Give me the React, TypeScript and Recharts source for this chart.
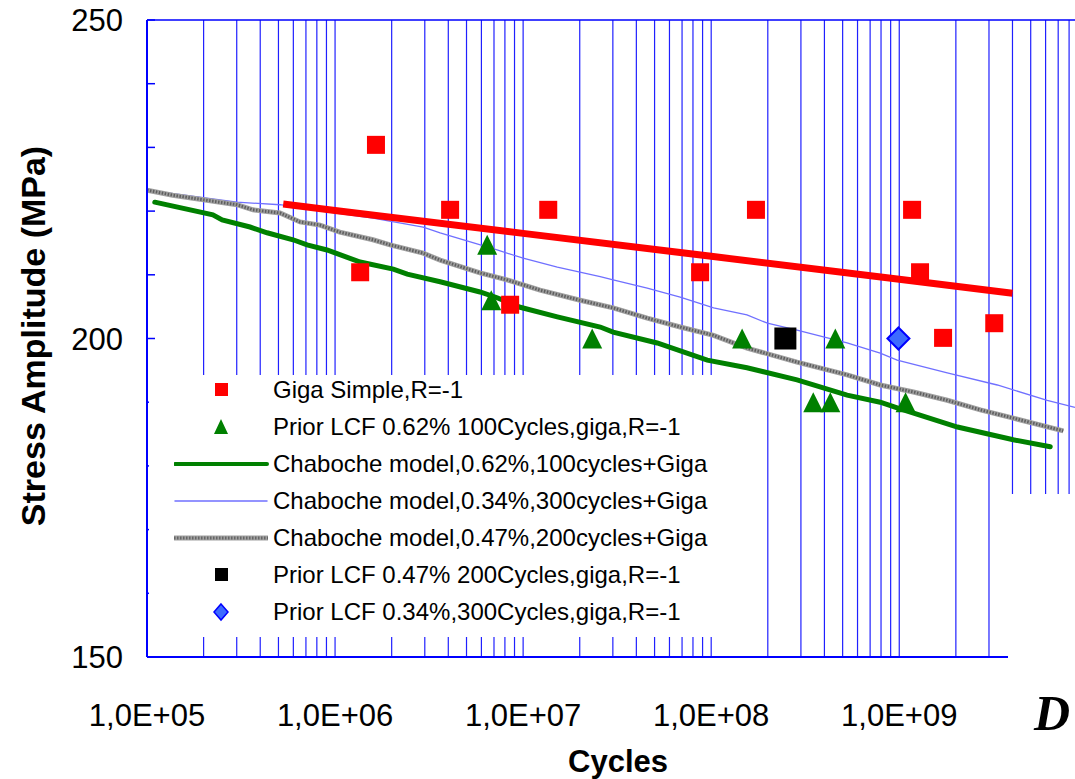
import {
  ComposedChart,
  Line,
  Scatter,
  XAxis,
  YAxis,
  ReferenceLine,
  Label,
} from "recharts";

// Giga Simple, R=-1 (red squares)
const gigaSimple = [
  { n: 1.65e6, s: 230.4 },
  { n: 1.36e6, s: 210.4 },
  { n: 4.09e6, s: 220.2 },
  { n: 8.53e6, s: 205.3 },
  { n: 1.36e7, s: 220.2 },
  { n: 8.73e7, s: 210.4 },
  { n: 1.73e8, s: 220.2 },
  { n: 1.17e9, s: 220.2 },
  { n: 1.29e9, s: 210.4 },
  { n: 1.71e9, s: 200.1 },
  { n: 3.2e9, s: 202.4 },
];

// fit through the giga points (thick red line)
const gigaFit = [
  { n: 5.3e5, s: 221.1 },
  { n: 1e6, s: 220.1 },
  { n: 1e7, s: 216.5 },
  { n: 1e8, s: 212.9 },
  { n: 1e9, s: 209.3 },
  { n: 4.0e9, s: 207.1 },
];

// Prior LCF 0.62% 100 cycles (green triangles)
const lcf062 = [
  { n: 6.44e6, s: 214.7 },
  { n: 6.77e6, s: 206.0 },
  { n: 2.33e7, s: 200 },
  { n: 1.46e8, s: 200 },
  { n: 4.57e8, s: 200 },
  { n: 3.49e8, s: 190 },
  { n: 4.3e8, s: 190 },
  { n: 1.08e9, s: 190 },
];

// Prior LCF 0.47% 200 cycles (black square)
const lcf047 = [{ n: 2.48e8, s: 200 }];

// Prior LCF 0.34% 300 cycles (blue diamond)
const lcf034 = [{ n: 9.9e8, s: 200 }];

// Chaboche model 0.62%, 100 cycles
const chab062 = [
  { n: 1.1e5, s: 221.4 },
  { n: 2.24e5, s: 219.4 },
  { n: 2.51e5, s: 218.6 },
  { n: 3.53e5, s: 217.5 },
  { n: 4.35e5, s: 216.6 },
  { n: 5.98e5, s: 215.5 },
  { n: 7.1e5, s: 214.7 },
  { n: 9.06e5, s: 213.9 },
  { n: 1.36e6, s: 212.0 },
  { n: 2.04e6, s: 210.9 },
  { n: 2.42e6, s: 210.1 },
  { n: 3.62e6, s: 208.9 },
  { n: 5.9e6, s: 207.3 },
  { n: 7.27e6, s: 206.4 },
  { n: 9.65e6, s: 204.9 },
  { n: 1.52e7, s: 203.4 },
  { n: 2.57e7, s: 201.8 },
  { n: 3.01e7, s: 201.0 },
  { n: 5.16e7, s: 199.3 },
  { n: 9.53e7, s: 196.6 },
  { n: 1.55e8, s: 195.4 },
  { n: 2.86e8, s: 193.5 },
  { n: 5.28e8, s: 191.1 },
  { n: 7.92e8, s: 190.0 },
  { n: 9.75e8, s: 189.1 },
  { n: 2.04e9, s: 186.1 },
  { n: 4.04e9, s: 184.1 },
  { n: 6.35e9, s: 183.0 },
];

// Chaboche model 0.34%, 300 cycles
const chab034 = [
  { n: 1.0e5, s: 223.3 },
  { n: 3.01e5, s: 221.4 },
  { n: 5.1e5, s: 221.0 },
  { n: 9.06e5, s: 219.9 },
  { n: 1.59e6, s: 218.9 },
  { n: 2.94e6, s: 217.5 },
  { n: 3.62e6, s: 216.6 },
  { n: 7.27e6, s: 213.9 },
  { n: 1.0e7, s: 212.6 },
  { n: 1.52e7, s: 211.2 },
  { n: 2.57e7, s: 209.7 },
  { n: 3.01e7, s: 209.2 },
  { n: 4.57e7, s: 207.9 },
  { n: 6.84e7, s: 206.5 },
  { n: 1.03e8, s: 204.8 },
  { n: 1.55e8, s: 203.7 },
  { n: 1.99e8, s: 202.4 },
  { n: 2.86e8, s: 201.3 },
  { n: 5.28e8, s: 199.3 },
  { n: 7.92e8, s: 197.7 },
  { n: 9.75e8, s: 196.6 },
  { n: 1.8e9, s: 194.6 },
  { n: 3.32e9, s: 192.7 },
  { n: 6.12e9, s: 190.3 },
  { n: 8.6e9, s: 189.2 },
];

// Chaboche model 0.47%, 200 cycles
const chab047 = [
  { n: 1.0e5, s: 223.3 },
  { n: 1.37e5, s: 222.5 },
  { n: 2.08e5, s: 221.7 },
  { n: 3.01e5, s: 221.0 },
  { n: 3.66e5, s: 220.2 },
  { n: 5.1e5, s: 219.7 },
  { n: 6.51e5, s: 218.3 },
  { n: 8.32e5, s: 217.8 },
  { n: 1.06e6, s: 216.7 },
  { n: 1.59e6, s: 215.5 },
  { n: 1.96e6, s: 214.7 },
  { n: 2.94e6, s: 213.4 },
  { n: 3.62e6, s: 212.3 },
  { n: 5.9e6, s: 210.3 },
  { n: 8.22e6, s: 209.2 },
  { n: 1.23e7, s: 207.6 },
  { n: 2.01e7, s: 206.0 },
  { n: 3.01e7, s: 204.8 },
  { n: 4.57e7, s: 203.2 },
  { n: 6.84e7, s: 201.8 },
  { n: 1.03e8, s: 200.5 },
  { n: 1.55e8, s: 198.5 },
  { n: 2.86e8, s: 196.3 },
  { n: 5.28e8, s: 194.3 },
  { n: 7.92e8, s: 192.7 },
  { n: 1.19e9, s: 191.6 },
  { n: 1.8e9, s: 190.3 },
  { n: 2.7e9, s: 188.8 },
  { n: 4.04e9, s: 187.5 },
  { n: 7.45e9, s: 185.5 },
];

const X_TICKS = [1e5, 1e6, 1e7, 1e8, 1e9];
const Y_TICKS = [150, 160, 170, 180, 190, 200, 210, 220, 230, 240, 250];
const X_MAX = 8.6e9;

// minor log gridlines 2..9 x 10^k plus decades
const gridX: number[] = [];
for (let k = 5; k <= 9; k++) {
  for (let m = 1; m <= 9; m++) {
    const v = m * Math.pow(10, k);
    if (v > 1e5 && v <= X_MAX) gridX.push(v);
  }
}

const FONT = "'Liberation Sans', Arial, sans-serif";
const AXIS_BLUE = "#0000ff";

const fmtExp = (v: number) => {
  const e = Math.round(Math.log10(v));
  return `1,0E+${String(e).padStart(2, "0")}`;
};

const XTick = (props: any) => {
  const { x, y, payload } = props;
  return (
    <text x={x} y={y + 69} textAnchor="middle" fontSize={31} fontFamily={FONT} fill="#000">
      {fmtExp(payload.value)}
    </text>
  );
};

const YTick = (props: any) => {
  const { x, y, payload } = props;
  const v = payload.value;
  return (
    <g>
      <line x1={x} x2={x + 8} y1={y} y2={y} stroke={AXIS_BLUE} strokeWidth={1.5} />
      {v % 50 === 0 && (
        <text x={x - 24} y={y + 11} textAnchor="end" fontSize={31} fontFamily={FONT} fill="#000">
          {v}
        </text>
      )}
    </g>
  );
};

const Square = (size: number, fill: string) => (props: any) => {
  const { cx, cy } = props;
  if (cx == null || cy == null) return <g />;
  return <rect x={cx - size / 2} y={cy - size / 2} width={size} height={size} fill={fill} />;
};

const Triangle = (props: any) => {
  const { cx, cy } = props;
  if (cx == null || cy == null) return <g />;
  const h = 20;
  const w = 20;
  return (
    <polygon
      points={`${cx},${cy - h / 2} ${cx + w / 2},${cy + h / 2} ${cx - w / 2},${cy + h / 2}`}
      fill="#008000"
    />
  );
};

const Diamond = (props: any) => {
  const { cx, cy } = props;
  if (cx == null || cy == null) return <g />;
  const r = 11;
  return (
    <polygon
      points={`${cx},${cy - r} ${cx + r},${cy} ${cx},${cy + r} ${cx - r},${cy}`}
      fill="#3d6bff"
      stroke="#0000ff"
      strokeWidth={2}
    />
  );
};

const legendRows = [
  { kind: "square", color: "#ff0000", text: "Giga Simple,R=-1" },
  { kind: "triangle", color: "#008000", text: "Prior LCF 0.62% 100Cycles,giga,R=-1" },
  { kind: "line", color: "#008000", width: 4, text: "Chaboche model,0.62%,100cycles+Giga" },
  { kind: "line", color: "#7070ff", width: 1.5, text: "Chaboche model,0.34%,300cycles+Giga" },
  { kind: "gray", color: "#8c8c8c", width: 5, text: "Chaboche model,0.47%,200cycles+Giga" },
  { kind: "square", color: "#000000", text: "Prior LCF 0.47% 200Cycles,giga,R=-1" },
  { kind: "diamond", color: "#3d6bff", text: "Prior LCF 0.34%,300Cycles,giga,R=-1" },
];

function LegendMarker({ row }: { row: (typeof legendRows)[number] }) {
  return (
    <svg width={96} height={20} style={{ position: "absolute", left: 0, top: 8 }}>
      {row.kind === "square" && <rect x={41} y={3} width={13} height={13} fill={row.color} />}
      {row.kind === "triangle" && <polygon points="47,2 54,17 40,17" fill={row.color} />}
      {row.kind === "diamond" && (
        <polygon points="47,2 54,10 47,18 40,10" fill={row.color} stroke="#0000ff" strokeWidth={1.5} />
      )}
      {row.kind === "line" && (
        <line x1={1} x2={93} y1={10} y2={10} stroke={row.color} strokeWidth={row.width} strokeLinecap="round" />
      )}
      {row.kind === "gray" && (
        <g>
          <line x1={0} x2={94} y1={10} y2={10} stroke="#a0a0a0" strokeWidth={5} />
          <line x1={0} x2={94} y1={10} y2={10} stroke="#666" strokeWidth={3} strokeDasharray="1.5 1.5" />
        </g>
      )}
    </svg>
  );
}

export default function App() {
  return (
    <div style={{ position: "absolute", left: 0, top: 0, width: 1075, height: 779, background: "#fff", overflow: "hidden" }}>
      <ComposedChart width={1075} height={779} margin={{ top: 20, right: 0, bottom: 0, left: 0 }}>
        <XAxis
          dataKey="n"
          type="number"
          scale="log"
          domain={[1e5, X_MAX]}
          allowDataOverflow
          ticks={X_TICKS}
          height={122}
          tickSize={0}
          tickMargin={0}
          tickLine={false}
          tick={<XTick />}
          axisLine={{ stroke: AXIS_BLUE, strokeWidth: 2 }}
        >
          <Label
            content={() => (
              <text x={618} y={772} textAnchor="middle" fontSize={31} fontWeight="bold" fontFamily={FONT} fill="#000">
                Cycles
              </text>
            )}
          />
        </XAxis>
        <YAxis
          dataKey="s"
          type="number"
          domain={[150, 250]}
          ticks={Y_TICKS}
          width={147}
          tickSize={0}
          tickMargin={0}
          tickLine={false}
          tick={<YTick />}
          axisLine={{ stroke: AXIS_BLUE, strokeWidth: 2 }}
          interval={0}
        >
          <Label
            content={() => (
              <text
                transform="translate(45,336) rotate(-90)"
                textAnchor="middle"
                fontSize={34}
                fontWeight="bold"
                fontFamily={FONT}
                fill="#000"
              >
                Stress Amplitude (MPa)
              </text>
            )}
          />
        </YAxis>

        {gridX.map((v) => (
          <ReferenceLine key={v} x={v} stroke="#2020ff" strokeWidth={1.2} />
        ))}
        <ReferenceLine y={250} stroke={AXIS_BLUE} strokeWidth={1.5} />

        <Line data={chab034} dataKey="s" stroke="#7070ff" strokeWidth={1.3} dot={false} isAnimationActive={false} />
        <Line data={chab047} dataKey="s" stroke="#a0a0a0" strokeWidth={5} dot={false} isAnimationActive={false} />
        <Line
          data={chab047}
          dataKey="s"
          stroke="#5e5e5e"
          strokeWidth={3}
          strokeDasharray="1.5 1.5"
          dot={false}
          isAnimationActive={false}
        />
        <Line data={chab062} dataKey="s" stroke="#008000" strokeWidth={5} dot={false} strokeLinecap="round" isAnimationActive={false} />
        <Line data={gigaFit} dataKey="s" stroke="#ff0000" strokeWidth={7} dot={false} isAnimationActive={false} />

        <Scatter data={gigaSimple} dataKey="s" shape={Square(18, "#ff0000")} isAnimationActive={false} />
        <Scatter data={lcf062} dataKey="s" shape={Triangle} isAnimationActive={false} />
        <Scatter data={lcf047} dataKey="s" shape={Square(22, "#000000")} isAnimationActive={false} />
        <Scatter data={lcf034} dataKey="s" shape={Diamond} isAnimationActive={false} />
      </ComposedChart>

      {/* legend box, white, sits over the gridlines */}
      <div
        style={{
          position: "absolute",
          left: 149,
          top: 375,
          width: 592,
          height: 262,
          background: "#fff",
          fontFamily: FONT,
          fontSize: 24,
          color: "#000",
        }}
      >
        {legendRows.map((row, i) => (
          <div
            key={row.text}
            style={{ position: "absolute", left: 25, top: 390 - 375 - 18 + i * 37, height: 36, width: 570 }}
          >
            <LegendMarker row={row} />
            <span style={{ position: "absolute", left: 99, top: 4, whiteSpace: "nowrap", lineHeight: "28px" }}>
              {row.text}
            </span>
          </div>
        ))}
      </div>

      {/* cropped corner of the original figure */}
      <div style={{ position: "absolute", left: 1008, top: 494, width: 67, height: 285, background: "#fff" }} />
      <div
        style={{
          position: "absolute",
          left: 1034,
          top: 688,
          fontFamily: "'Liberation Serif', 'Times New Roman', serif",
          fontStyle: "italic",
          fontWeight: "bold",
          fontSize: 50,
          lineHeight: "50px",
        }}
      >
        D
      </div>
    </div>
  );
}
